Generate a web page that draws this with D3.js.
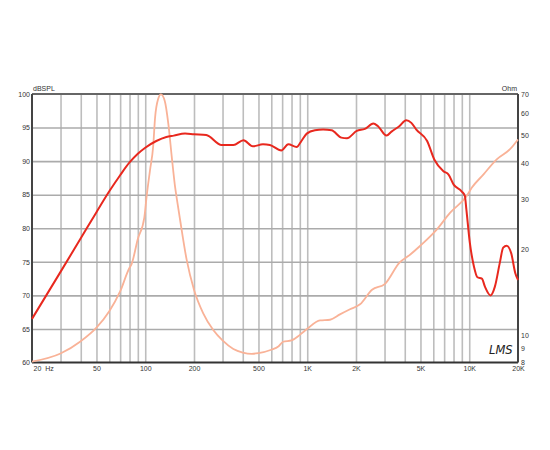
<!DOCTYPE html>
<html><head><meta charset="utf-8">
<script src="https://cdn.jsdelivr.net/npm/d3@7"></script>
<style>
html,body{margin:0;padding:0;background:#fff;}
svg{display:block;font-family:"Liberation Sans",Arial,sans-serif;}
</style></head>
<body>
<svg id="chart" width="550" height="450"></svg>
<script>
// ---- data ----
const splFreq = [20,30,40,50,60,70,80,90,100,117,135,150,176,200,238,296,350,404,461,533,588,692,764,860,921,993,1115,1252,1413,1624,1760,2022,2270,2558,2735,3087,3313,3700,4085,4392,4715,5497,6096,6929,7454,8015,8969,9400,9600,10080,10690,11230,11970,12500,13540,14400,15430,16200,17020,18150,19250,20000];
const splDb   = [66.5,73.5,78.5,82.4,85.5,87.9,89.8,91.1,92.0,93.0,93.6,93.8,94.1,94.0,93.9,92.4,92.4,93.1,92.2,92.5,92.4,91.6,92.5,92.1,93.0,94.1,94.6,94.7,94.6,93.5,93.4,94.5,94.8,95.6,95.2,93.8,94.4,95.2,96.1,95.7,94.7,93.0,90.2,88.5,88.0,86.5,85.5,84.8,82.8,77.9,74.3,72.7,72.5,71.3,70.0,71.3,74.8,77.1,77.4,76.3,73.3,72.3];

const impFreq = [20,30,40,50,60,70,80,82,90,98.7,102,107,112,115,120,125,132,139,146,153,158,164,180,200,228,263,300,350,400,454,500,600,663,710,800,900,1000,1198,1382,1592,1836,2118,2512,3020,3700,4308,4966,6296,7607,9640,10358,12218,14780,17850,20000];
const impOhm  = [8.06,8.6,9.5,10.6,12.1,14.2,17.2,17.6,21.7,25.8,30.6,37.8,46,57.8,67.1,69.8,66.2,54.8,41.8,32.9,29.1,25.4,18.4,14.4,11.9,10.4,9.56,8.92,8.67,8.58,8.63,8.87,9.1,9.46,9.56,10.0,10.5,11.24,11.3,11.8,12.3,12.8,14.4,15.1,17.9,19.1,20.5,23.4,26.8,30.7,32.8,36.5,41.3,44.8,48.5];

const dbTicks = [60,65,70,75,80,85,90,95,100];
const ohmTicks = [8,9,10,20,30,40,50,60,70];
const freqLabelVals = [20,50,100,200,500,1000,2000,5000,10000,20000];
const freqLabels = ["20  Hz","50","100","200","500","1K","2K","5K","10K","20K"];
const gridFreqs = [30,40,50,60,70,80,90,100,200,300,400,500,600,700,800,900,1000,2000,3000,4000,5000,6000,7000,8000,9000,10000];

// ---- layout ----
const L=32, R=518, T=94, B=362.5;
const svg = d3.select("#chart");
const x = d3.scaleLog().domain([20,20000]).range([L,R]);
const yDb = d3.scaleLinear().domain([60,100]).range([B,T]);
const yOhm = d3.scaleLog().domain([8,70]).range([B,T]);

// vertical grid
const gx = svg.append("g").attr("transform",`translate(0,${B})`)
  .call(d3.axisBottom(x).tickValues(gridFreqs).tickSize(-(B-T)).tickFormat(""));
gx.select(".domain").remove();
gx.selectAll("line").attr("stroke","#bdbdbd").attr("stroke-width",1.6);

// horizontal grid
const gy = svg.append("g").attr("transform",`translate(${L},0)`)
  .call(d3.axisLeft(yDb).tickValues(dbTicks.slice(1,-1)).tickSize(-(R-L)).tickFormat(""));
gy.select(".domain").remove();
gy.selectAll("line").attr("stroke","#ababab").attr("stroke-width",1.6);

// frame
svg.append("line").attr("x1",L).attr("x2",R).attr("y1",T).attr("y2",T).attr("stroke","#666").attr("stroke-width",2);
svg.append("line").attr("x1",L).attr("x2",R).attr("y1",B).attr("y2",B).attr("stroke","#333").attr("stroke-width",2);
svg.append("line").attr("x1",L).attr("x2",L).attr("y1",T).attr("y2",B).attr("stroke","#444").attr("stroke-width",2);
svg.append("line").attr("x1",R).attr("x2",R).attr("y1",T).attr("y2",B).attr("stroke","#444").attr("stroke-width",2);

const fontSize = 7, txtCol = "#333";

// left axis labels
const al = svg.append("g").attr("transform",`translate(${L},0)`)
  .call(d3.axisLeft(yDb).tickValues(dbTicks).tickSize(0).tickPadding(2));
al.select(".domain").remove();
al.selectAll("text").attr("font-size",fontSize).attr("fill",txtCol).attr("font-family","Liberation Sans, Arial, sans-serif");

// right axis labels
const ar = svg.append("g").attr("transform",`translate(${R},0)`)
  .call(d3.axisRight(yOhm).tickValues(ohmTicks).tickSize(0).tickPadding(3).tickFormat(d3.format("d")));
ar.select(".domain").remove();
ar.selectAll("text").attr("font-size",fontSize).attr("fill",txtCol).attr("font-family","Liberation Sans, Arial, sans-serif");

// bottom labels
const ab = svg.append("g").attr("transform",`translate(0,${B})`)
  .call(d3.axisBottom(x).tickValues(freqLabelVals).tickSize(0).tickPadding(4).tickFormat((d,i)=>freqLabels[i]));
ab.select(".domain").remove();
ab.selectAll("text").attr("font-size",fontSize).attr("fill",txtCol).attr("font-family","Liberation Sans, Arial, sans-serif")
  .style("white-space","pre")
  .attr("text-anchor",(d,i)=> i===0 ? "start" : "middle")
  .attr("dx",(d,i)=> i===0 ? "1" : "0");

// unit labels
svg.append("text").attr("x",L+1).attr("y",T-3).attr("font-size",fontSize).attr("fill",txtCol).text("dBSPL");
svg.append("text").attr("x",R-1).attr("y",T-3).attr("text-anchor","end").attr("font-size",fontSize).attr("fill",txtCol).text("Ohm");

// curves
const impLine = d3.line().x((d,i)=>x(impFreq[i])).y((d,i)=>yOhm(impOhm[i])).curve(d3.curveMonotoneX);
svg.append("path").datum(impOhm).attr("d",impLine).attr("fill","none").attr("stroke","#f9b297").attr("stroke-width",1.8);

const splLine = d3.line().x((d,i)=>x(splFreq[i])).y((d,i)=>yDb(splDb[i])).curve(d3.curveMonotoneX);
svg.append("path").datum(splDb).attr("d",splLine).attr("fill","none").attr("stroke","#e8281e").attr("stroke-width",2);

// logo
svg.append("text").attr("x",489).attr("y",354).attr("font-size",11.5).attr("font-style","italic")
  .attr("font-family","DejaVu Sans, sans-serif").attr("font-weight","300").attr("fill","#222").text("LMS");
</script>
</body></html>
